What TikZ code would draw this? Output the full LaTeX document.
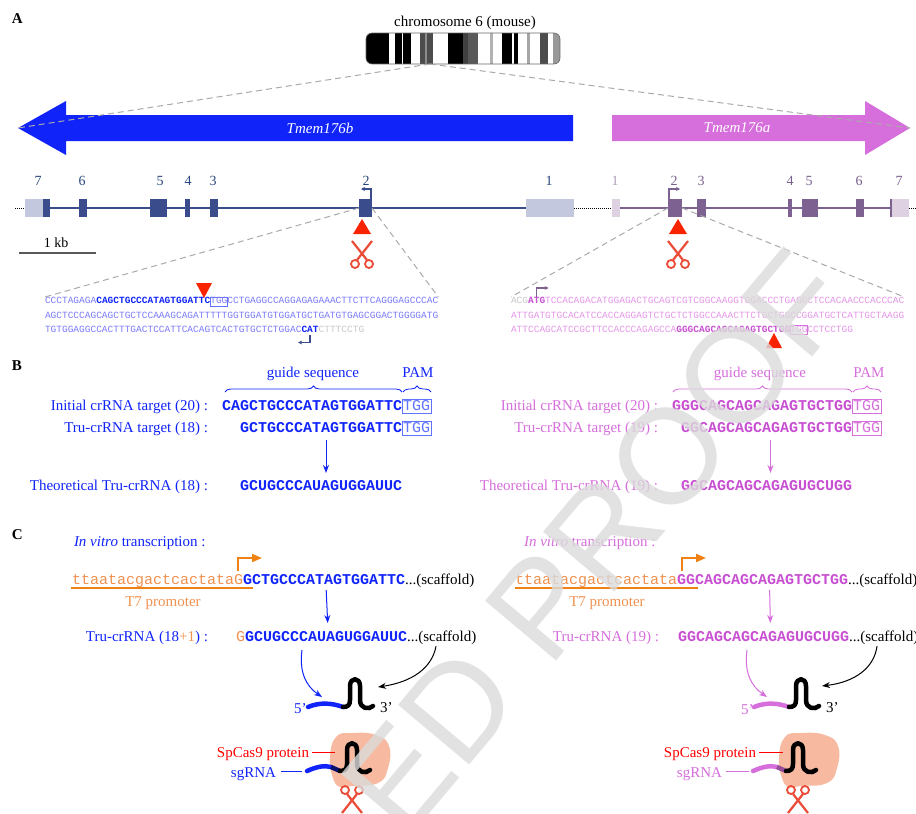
\documentclass[tikz,border=0pt]{standalone}
\usepackage{fontspec}
\setmainfont{Liberation Serif}
\setsansfont{Liberation Sans}
\setmonofont{Liberation Mono}
\usetikzlibrary{arrows.meta,decorations.pathreplacing,positioning}

\definecolor{tmemb}{RGB}{16,36,250}
\definecolor{pamb}{RGB}{95,115,255}
\definecolor{tmema}{RGB}{214,110,220}
\definecolor{tmemadk}{RGB}{200,78,210}
\definecolor{seqb}{RGB}{122,122,250}
\definecolor{seqa}{RGB}{228,150,232}
\definecolor{seqgray}{RGB}{200,200,200}
\definecolor{exonb}{RGB}{58,76,140}
\definecolor{utrb}{RGB}{195,200,222}
\definecolor{exona}{RGB}{125,97,145}
\definecolor{utra}{RGB}{222,210,226}
\definecolor{numb}{RGB}{40,70,125}
\definecolor{numa}{RGB}{120,95,140}
\definecolor{t7}{RGB}{240,130,20}
\definecolor{t7txt}{RGB}{240,145,80}
\definecolor{cut}{RGB}{250,35,0}
\definecolor{scis}{RGB}{235,75,55}
\definecolor{cas}{RGB}{247,186,160}
\definecolor{zoomgray}{RGB}{170,170,170}

\tikzset{
  every node/.style={inner sep=0pt, outer sep=0pt},
  lab/.style={font=\fontsize{15}{18}\selectfont},
  seq/.style={font=\fontsize{15}{18}\selectfont\ttfamily\bfseries, text height=11pt, text depth=3pt},
  promo/.style={font=\fontsize{15}{18}\selectfont\ttfamily, text height=11pt, text depth=3pt},
  pam/.style={font=\fontsize{15}{18}\selectfont\ttfamily, text height=10pt, text depth=2pt,
    inner xsep=1pt, inner ysep=1pt, line width=1pt},
  dna/.style={font=\fontsize{9.5}{11}\selectfont\ttfamily, text height=6.5pt, text depth=2.5pt},
  exnum/.style={font=\fontsize{14}{16}\selectfont, anchor=base},
  panel/.style={font=\fontsize{15}{18}\selectfont\bfseries, anchor=base west},
  zoomline/.style={zoomgray, dash pattern=on 6pt off 4pt, line width=1pt},
  flow/.style={-{Stealth[length=8pt,width=6pt]}, line width=1pt},
  tss/.style={line width=1.2pt, -{Stealth[length=4pt,width=4pt]}},
  t7arrow/.style={t7, line width=2pt, -{Triangle[length=10pt,width=8pt]}},
  guide/.style={line width=0.8pt, decorate, decoration={brace, amplitude=6pt}},
  scissors/.pic={
    \draw[scis, line width=2.2pt] (-10,-13) -- (5,6) (10,-13) -- (-5,6);
    \draw[scis, line width=1.8pt] (-7,10) circle[radius=4pt] (7,10) circle[radius=4pt];
  },
  rnaloop/.pic={
    \draw[line width=4.5pt, line cap=round, line join=round]
      (0,0) .. controls (5,0) and (7,-2) .. (7,-7) -- (7,-21)
      .. controls (7,-30) and (17,-30) .. (17,-21) -- (17,-7)
      .. controls (17,2) and (26,3) .. (30,-1);
  }
}

\begin{document}
\begin{tikzpicture}[x=1pt, y=-1pt]
\useasboundingbox[fill=white] (0,0) rectangle (916,814);

%% ---------- A : locus ----------
\node[panel] (panA) at (12,23) {A};
\node[lab, anchor=base] (chrlab) at (465,26) {chromosome 6 (mouse)};

% chromosome 6 ideogram
\begin{scope}
  \clip[rounded corners=6pt] (366,33) rectangle (560,64);
  \foreach \a/\b/\c in {366/389/black, 395/402/black, 403/411/black, 420/425/black!70,
      425/427/black!45, 427/433/black!70, 448/463/black, 463/468/black!75, 468/478/black!65,
      490/493/black!30, 502/512/black, 514/518/black, 527/530/black!35, 540/548/black!70,
      553/560/black!40}
    \fill[\c] (\a,33) rectangle (\b,64);
\end{scope}
\draw[black!60, line width=0.6pt, rounded corners=6pt] (366,33) rectangle (560,64);
\coordinate (chrband) at (430,64);

% gene arrows
\fill[tmemb] (18,128) -- (66,101) -- (66,115) -- (573,115) -- (573,141) -- (66,141) -- (66,155) -- cycle;
\fill[tmema] (612,115) -- (865,115) -- (865,101) -- (910,128) -- (865,155) -- (865,141) -- (612,141) -- cycle;
\node[lab, text=white] (nameB) at (320,128) {\itshape Tmem176b};
\node[lab, text=white] (nameA) at (737,128) {\itshape Tmem176a};
\draw[zoomline] (chrband) -- (18,128);
\draw[zoomline] (chrband) -- (910,128);

% exon--intron structure
\draw[densely dotted, line width=1pt] (15,208) -- (25,208);
\draw[densely dotted, line width=1pt] (574,208) -- (612,208);
\draw[densely dotted, line width=1pt] (909,208) -- (916,208);
\draw[exonb, line width=2pt] (43,208) -- (526,208);
\draw[exona, line width=2pt] (620,208) -- (892,208);
\fill[utrb] (25,199) rectangle (43,217);
\fill[utrb] (526,199) rectangle (574,217);
\fill[utra] (612,199) rectangle (620,217);
\fill[utra] (892,199) rectangle (909,217);
\foreach \a/\b in {43/50, 79/87, 150/167, 185/190, 210/218}
  \fill[exonb] (\a,199) rectangle (\b,217);
\foreach \a/\b in {697/706, 788/792, 802/818, 856/864, 890/892}
  \fill[exona] (\a,199) rectangle (\b,217);
\node[fill=exonb, minimum width=13pt, minimum height=18pt] (ex2b) at (365.5,208) {};
\node[fill=exona, minimum width=14pt, minimum height=18pt] (ex2a) at (675,208) {};

\foreach \x/\n in {38/7, 82/6, 160/5, 188/4, 213/3, 366/2, 549/1}
  \node[exnum, text=numb] at (\x,185) {\n};
\foreach \x/\n in {674/2, 701/3, 790/4, 809/5, 859/6, 899/7}
  \node[exnum, text=numa] at (\x,185) {\n};
\node[exnum, text=numa!60] (ex1a) at (615,185) {1};

\draw[tss, exonb] (371,199) |- (361,189);
\draw[tss, exona] (669,199) |- (680,189);

% cut sites
\fill[cut] (353,234) -- (371,234) -- (362,219) -- cycle;
\fill[cut] (669,234) -- (687,234) -- (678,219) -- cycle;
\pic at (362,254) {scissors};
\pic at (678,254) {scissors};

% scale bar
\node[font=\fontsize{14}{16}\selectfont, anchor=base] (kb) at (56,247) {1 kb};
\draw[black!65, line width=1.5pt] (19,253) -- (96,253);

% zoom on exon 2 of Tmem176b
\node[dna, text=seqb, anchor=base west] (sbA) at (45,303.5) {CCCTAGAGA};
\node[dna, text=tmemb, right=0pt of sbA] (sbB) {\bfseries CAGCTGCCCATAGTGGATTC};
\node[dna, text=seqb, draw=pamb, line width=0.8pt, right=0pt of sbB] (sbPam) {TGG};
\node[dna, text=seqb, right=0pt of sbPam] (sbC) {CCTGAGGCCAGGAGAGAAACTTCTTCAGGGAGCCCAC};
\node[dna, text=seqb, anchor=base west] (sbD) at (45,318) {AGCTCCCAGCAGCTGCTCCAAAGCAGATTTTTGGTGGATGTGGATGCTGATGTGAGCGGACTGGGGATG};
\node[dna, text=seqb, anchor=base west] (sbE) at (45,332) {TGTGGAGGCCACTTTGACTCCATTCACAGTCACTGTGCTCTGGAC};
\node[dna, text=tmemb, right=0pt of sbE] (sbAtg) {\bfseries CAT};
\node[dna, text=seqgray, right=0pt of sbAtg] (sbF) {CTTTCCTG};
\draw[tss, exonb] (sbAtg.south) -- ++(0,8) -- ++(-12,0);
\fill[cut] (196,283) -- (212,283) -- (204,298) -- cycle;
\draw[zoomline] (ex2b.west) -- (sbA.north west);
\draw[zoomline] (ex2b.east) -- (sbC.north east);

% zoom on exon 2 of Tmem176a
\node[dna, text=seqgray, anchor=base west] (saA) at (511,303.5) {ACG};
\node[dna, text=tmemadk, right=0pt of saA] (saAtg) {\bfseries ATG};
\node[dna, text=seqa, right=0pt of saAtg] (saB) {TCCACAGACATGGAGACTGCAGTCGTCGGCAAGGTGGACCCTGAGGCTCCACAACCCACCCAC};
\node[dna, text=seqa, anchor=base west] (saC) at (511,318) {ATTGATGTGCACATCCACCAGGAGTCTGCTCTGGCCAAACTTCTGCTGGCCGGATGCTCATTGCTAAGG};
\node[dna, text=seqa, anchor=base west] (saD) at (511,332) {ATTCCAGCATCCGCTTCCACCCAGAGCCA};
\node[dna, text=tmemadk, right=0pt of saD] (saE) {\bfseries GGGCAGCAGCAGAGTGCTGG};
\node[dna, text=seqa, draw=tmema, line width=0.7pt, right=0pt of saE] (saPam) {TGG};
\node[dna, text=seqa, right=0pt of saPam] (saF) {CCTCCTGG};
\draw[tss, exona] (saAtg.north) -- ++(0,-9) -- ++(12,0);
\fill[cut] (766,348) -- (782,348) -- (774,333) -- cycle;
\draw[zoomline] (ex2a.west) -- (saA.north west);
\draw[zoomline] (ex2a.east) -- (saB.north east);

%% ---------- B : crRNA design ----------
\node[panel] (panB) at (12,370) {B};

\node[lab, text=tmemb, anchor=base east] (initB) at (208,410) {Initial crRNA target (20) :};
\node[seq, text=tmemb, anchor=base west] (initBseq) at (222,410) {CAGCTGCCCATAGTGGATTC};
\node[pam, draw=pamb, text=pamb, anchor=base west] (initBpam) at (initBseq.base east) {TGG};
\node[lab, text=tmemb, anchor=base east] (truB) at (208,432) {Tru-crRNA target (18) :};
\node[seq, text=tmemb, anchor=base west] (truBseq) at (240,432) {GCTGCCCATAGTGGATTC};
\node[pam, draw=pamb, text=pamb, anchor=base west] (truBpam) at (truBseq.base east) {TGG};
\node[lab, text=tmemb, anchor=base east] (theoB) at (208,490) {Theoretical Tru-crRNA (18) :};
\node[seq, text=tmemb, anchor=base west] (theoBseq) at (240,490) {GCUGCCCAUAGUGGAUUC};
\draw[guide, tmemb] ([xshift=3pt,yshift=7pt]initBseq.north west) -- ([yshift=7pt]initBseq.north east);
\draw[guide, tmemb] ([xshift=1pt,yshift=7pt]initBpam.north west) -- ([yshift=7pt]initBpam.north east);
\node[lab, text=tmemb, anchor=base] (guideB) at (313,377) {guide sequence};
\node[lab, text=tmemb, anchor=base] (pamB) at (418,377) {PAM};
\draw[flow, tmemb, shorten <=5pt, shorten >=6pt] ([xshift=5pt]truBseq.south) -- ([xshift=5pt]theoBseq.north);

\node[lab, text=tmema, anchor=base east] (initA) at (658,410) {Initial crRNA target (20) :};
\node[seq, text=tmemadk, anchor=base west] (initAseq) at (672,410) {GGGCAGCAGCAGAGTGCTGG};
\node[pam, draw=tmema, text=tmema, anchor=base west] (initApam) at (initAseq.base east) {TGG};
\node[lab, text=tmema, anchor=base east] (truA) at (658,432) {Tru-crRNA target (19) :};
\node[seq, text=tmemadk, anchor=base west] (truAseq) at (681,432) {GGCAGCAGCAGAGTGCTGG};
\node[pam, draw=tmema, text=tmema, anchor=base west] (truApam) at (truAseq.base east) {TGG};
\node[lab, text=tmema, anchor=base east] (theoA) at (658,490) {Theoretical Tru-crRNA (19) :};
\node[seq, text=tmemadk, anchor=base west] (theoAseq) at (681,490) {GGCAGCAGCAGAGUGCUGG};
\draw[guide, tmema] ([xshift=1pt,yshift=7pt]initAseq.north west) -- ([yshift=7pt]initAseq.north east);
\draw[guide, tmema] ([xshift=1pt,yshift=7pt]initApam.north west) -- ([yshift=7pt]initApam.north east);
\node[lab, text=tmema, anchor=base] (guideA) at (760,377) {guide sequence};
\node[lab, text=tmema, anchor=base] (pamA) at (869,377) {PAM};
\draw[flow, tmema, shorten <=5pt, shorten >=6pt] ([xshift=4pt]truAseq.south) -- ([xshift=4pt]theoAseq.north);

%% ---------- C : in vitro transcription ----------
\node[panel] (panC) at (12,539) {C};

\node[lab, text=tmemb, anchor=base west] (ivtB) at (74,546) {\textit{In vitro} transcription :};
\node[promo, text=t7txt, anchor=base west] (t7B) at (72,584) {ttaatacgactcactataG};
\node[seq, text=tmemb, right=0pt of t7B] (ivtBseq) {GCTGCCCATAGTGGATTC};
\node[lab, anchor=base west] (ivtBscf) at (ivtBseq.base east) {...(scaffold)};
\draw[t7, line width=1.5pt] ([xshift=-1pt,yshift=-4pt]t7B.base west) -- ++(182,0);
\node[lab, text=t7txt, anchor=base] (t7Blab) at (163,606) {T7 promoter};
\draw[t7arrow] (238,571) |- (262,558);
\node[lab, text=tmemb, anchor=base east] (rnaB) at (208,641) {Tru-crRNA (18\textcolor{t7txt}{+1}) :};
\node[promo, text=t7txt, anchor=base west] (gB) at (236,641) {G};
\node[seq, text=tmemb, right=0pt of gB] (rnaBseq) {GCUGCCCAUAGUGGAUUC};
\node[lab, anchor=base west] (rnaBscf) at (rnaBseq.base east) {...(scaffold)};
\draw[flow, tmemb, shorten <=3pt, shorten >=7pt] ([xshift=2pt]ivtBseq.south) -- ([xshift=2pt]rnaBseq.north);

\node[lab, text=tmema, anchor=base west] (ivtA) at (524,546) {\textit{In vitro} transcription :};
\node[promo, text=t7txt, anchor=base west] (t7A) at (515,584) {ttaatacgactcactata};
\node[seq, text=tmemadk, right=0pt of t7A] (ivtAseq) {GGCAGCAGCAGAGTGCTGG};
\node[lab, anchor=base west] (ivtAscf) at (ivtAseq.base east) {...(scaffold)};
\draw[t7, line width=1.5pt] ([yshift=-4pt]t7A.base west) -- ++(183,0);
\node[lab, text=t7txt, anchor=base] (t7Alab) at (607,606) {T7 promoter};
\draw[t7arrow] (682,571) |- (706,558);
\node[lab, text=tmema, anchor=base east] (rnaA) at (659,641) {Tru-crRNA (19) :};
\node[seq, text=tmemadk, anchor=base west] (rnaAseq) at (678,641) {GGCAGCAGCAGAGUGCUGG};
\node[lab, anchor=base west] (rnaAscf) at (rnaAseq.base east) {...(scaffold)};
\draw[flow, tmema, shorten <=3pt, shorten >=7pt] ([xshift=7pt]ivtAseq.south) -- ([xshift=7pt]rnaAseq.north);

% sgRNA = crRNA + scaffold
\coordinate (hpB5) at (322,697);
\coordinate (hpB3) at (378,687);
\coordinate (hpA5) at (767,697);
\coordinate (hpA3) at (822,686);
\draw[flow, tmemb] ([xshift=57pt,yshift=-6pt]rnaBseq.south west) .. controls (299,672) and (306,686) .. (hpB5);
\draw[flow] ([xshift=29pt,yshift=-2pt]rnaBscf.south west) .. controls (432,668) and (412,682) .. (hpB3);
\draw[flow, tmema] ([xshift=69pt,yshift=-6pt]rnaAseq.south west) .. controls (744,672) and (751,686) .. (hpA5);
\draw[flow] ([xshift=28pt,yshift=-2pt]rnaAscf.south west) .. controls (874,668) and (855,682) .. (hpA3);

\draw[tmemb, line width=4.5pt, line cap=round] (308,707) .. controls (320,702) and (332,703) .. (343,707);
\pic at (343,707) {rnaloop};
\node[lab, text=tmemb, anchor=base west] (fiveB) at (294,713) {5’};
\node[lab, anchor=base west] (threeB) at (380,712) {3’};

\draw[tmema, line width=4.5pt, line cap=round] (754,707) .. controls (766,702) and (778,703) .. (789,707);
\pic at (789,707) {rnaloop};
\node[lab, text=tmema, anchor=base west] (fiveA) at (741,714) {5’};
\node[lab, anchor=base west] (threeA) at (826,712) {3’};

% SpCas9 / sgRNA complex
\fill[cas] plot[smooth cycle, tension=0.8] coordinates
  {(336,737) (353,733) (376,735) (389,746) (388,768) (378,783) (352,786) (340,787) (333,778) (330,758)};
\draw[tmemb, line width=4.5pt, line cap=round] (307,771) .. controls (316,767) and (324,765) .. (331,767);
\draw[tmemb!45!black, line width=4.5pt] (331,767) -- (340,771);
\pic at (340,771) {rnaloop};
\node[lab, text=red, anchor=base east] (casB) at (309,757) {SpCas9 protein};
\draw[red, line width=1pt] ([xshift=3pt,yshift=5pt]casB.base east) -- ++(23,0);
\node[lab, text=tmemb, anchor=base east] (sgB) at (276,777) {sgRNA};
\draw[tmemb, line width=1pt] ([xshift=5pt,yshift=6pt]sgB.base east) -- ++(21,0);
\pic[rotate=180] at (352,800) {scissors};

\fill[cas] plot[smooth cycle, tension=0.8] coordinates
  {(785,737) (802,733) (825,735) (838,746) (837,768) (827,783) (801,786) (789,787) (782,778) (779,758)};
\draw[tmema, line width=4.5pt, line cap=round] (753,771) .. controls (762,767) and (770,765) .. (777,767);
\draw[tmema!70!black, line width=4.5pt] (777,767) -- (786,771);
\pic at (786,771) {rnaloop};
\node[lab, text=red, anchor=base east] (casA) at (756,757) {SpCas9 protein};
\draw[red, line width=1pt] ([xshift=3pt,yshift=5pt]casA.base east) -- ++(24,0);
\node[lab, text=tmema, anchor=base east] (sgA) at (722,777) {sgRNA};
\draw[tmema, line width=1pt] ([xshift=4pt,yshift=6pt]sgA.base east) -- ++(23,0);
\pic[rotate=180] at (798,800) {scissors};

% proof stamp
\node[font=\fontsize{135}{135}\selectfont\sffamily, text=black!14, text opacity=0.8,
  rotate=50, anchor=base west] (stamp) at (405,842) {ED PROOF};
\end{tikzpicture}
\end{document}
